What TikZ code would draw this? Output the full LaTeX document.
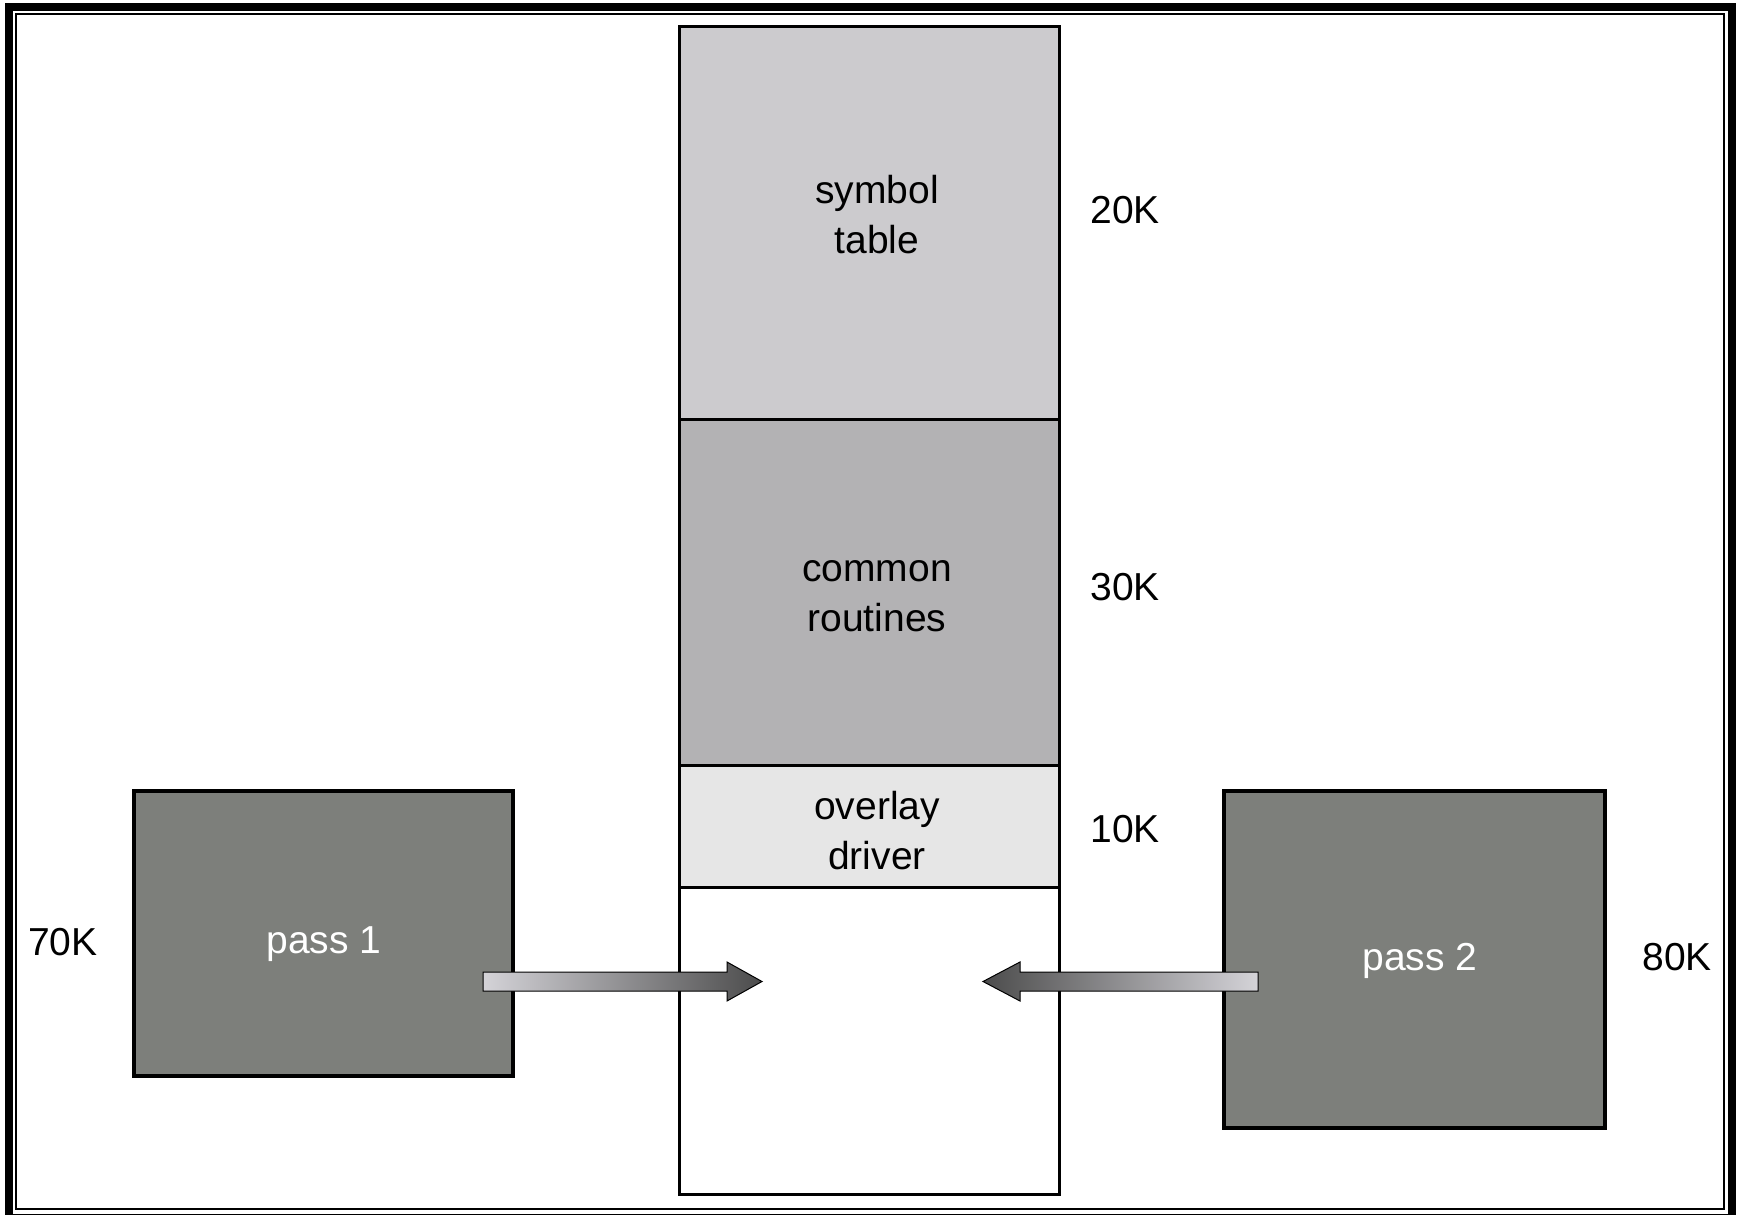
\documentclass[tikz,border=0pt]{standalone}
\usepackage{fontspec}
\setmainfont{Liberation Sans}
\definecolor{symc}{HTML}{CCCBCE}
\definecolor{comc}{HTML}{B3B2B4}
\definecolor{ovlc}{HTML}{E6E6E6}
\definecolor{passc}{HTML}{7D7F7B}
\definecolor{arlight}{HTML}{D4D3D8}
\definecolor{ardark}{HTML}{4C4C4C}
\begin{document}
\begin{tikzpicture}[x=0.5pt,y=-0.5pt,
  seg/.style={draw=black,line width=1.5pt,inner sep=0pt,minimum width=190pt},
  passbox/.style={draw=black,line width=2pt,fill=passc,inner sep=0pt},
  lbl/.style={font=\fontsize{19.5pt}{25pt}\selectfont,anchor=base,inner sep=0pt,align=center},
  wlbl/.style={lbl,text=white},
  blockarrow/.style={draw=black,line width=0.5pt}]
\useasboundingbox (0,0) rectangle (1740,1215);
% frame
\draw[line width=4pt] (9,6.5) rectangle (1731.5,1218);
\draw[line width=1pt] (15.5,13.5) rectangle (1724,1209);
% memory column
\node[seg,fill=symc,minimum height=196.5pt] (sym) at (869,223) {};
\node[seg,fill=comc,minimum height=173.1pt] (com) at (869,592.6) {};
\node[seg,fill=ovlc,minimum height=61.05pt] (ovl) at (869,826.75) {};
\node[seg,fill=white,minimum height=153.1pt] (free) at (869,1040.9) {};
% passes
\node[passbox,minimum width=189.5pt,minimum height=142.5pt] (p1) at (323.5,933.5) {};
\node[passbox,minimum width=190.5pt,minimum height=168.5pt] (p2) at (1414.5,959.5) {};
% arrows
\coordinate (a1t) at (483,981.5);
\coordinate (a2t) at (1258,981.5);
\shade[blockarrow,left color=arlight,right color=ardark]
  (483,972) -- (727,972) -- (727,962) -- (762,981.5) -- (727,1001) -- (727,991) -- (483,991) -- cycle;
\shade[blockarrow,left color=ardark,right color=arlight]
  (1258,972) -- (1020,972) -- (1020,962) -- (983,981.5) -- (1020,1001) -- (1020,991) -- (1258,991) -- cycle;
% labels
\node[lbl] (tsym) at (877,253) {symbol\\table};
\node[lbl] (tcom) at (877,631) {common\\routines};
\node[lbl] (tovl) at (877,869) {overlay\\driver};
\node[lbl] (k20) at (1125,223) {20K};
\node[lbl] (k30) at (1125,600) {30K};
\node[lbl] (k10) at (1125,842) {10K};
\node[lbl] (k70) at (63,955) {70K};
\node[lbl] (k80) at (1677,970) {80K};
\node[wlbl] (tp1) at (324,953) {pass 1};
\node[wlbl] (tp2) at (1420,970) {pass 2};
\end{tikzpicture}
\end{document}
